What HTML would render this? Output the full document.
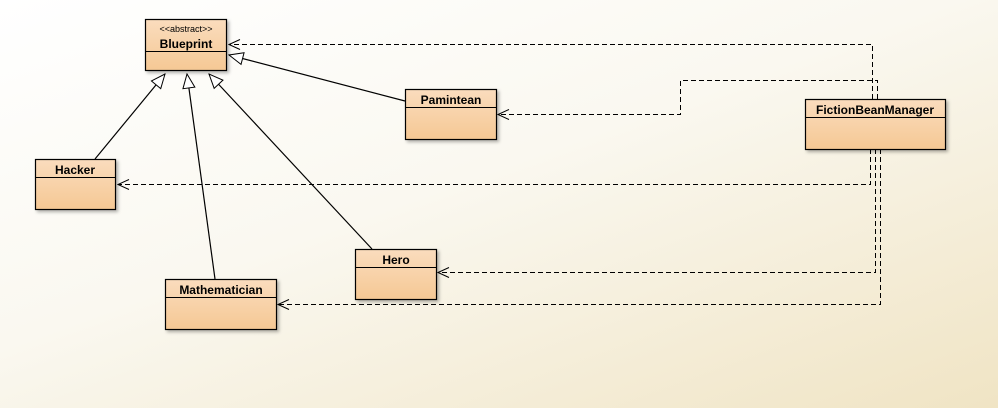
<!DOCTYPE html>
<html><head><meta charset="utf-8"><style>
html,body{margin:0;padding:0}
body{width:998px;height:408px;overflow:hidden;background:linear-gradient(160deg,#ffffff 0%,#faf8f0 45%,#f0e4c4 100%);font-family:"Liberation Sans",sans-serif}
</style></head><body>
<svg width="998" height="408" xmlns="http://www.w3.org/2000/svg" style="position:absolute;left:0;top:0">
<defs>
<linearGradient id="g" x1="0" y1="0" x2="0" y2="1"><stop offset="0" stop-color="#fadcbd"/><stop offset="1" stop-color="#f5c894"/></linearGradient>
<marker id="tri" markerWidth="16" markerHeight="14" refX="15" refY="7" orient="auto" markerUnits="userSpaceOnUse"><path d="M1,1 L15,7 L1,13 z" fill="#fff" stroke="#000" stroke-width="1"/></marker>
<marker id="open" markerWidth="14" markerHeight="12" refX="12" refY="6" orient="auto" markerUnits="userSpaceOnUse"><path d="M1,1 L12,6 L1,11" fill="none" stroke="#000" stroke-width="1" stroke-dasharray="none"/></marker>
<filter id="sh"><feDropShadow dx="2" dy="2" stdDeviation="1.5" flood-opacity="0.3"/></filter>
</defs>
<g stroke="#000" stroke-width="1.2" fill="none">
<line x1="95" y1="159" x2="165" y2="74" marker-end="url(#tri)"/>
<line x1="215" y1="279" x2="187" y2="74" marker-end="url(#tri)"/>
<line x1="372" y1="249" x2="209" y2="74" marker-end="url(#tri)"/>
<line x1="405" y1="101" x2="229" y2="55" marker-end="url(#tri)"/>
</g>
<g stroke="#000" stroke-width="1" fill="none" stroke-dasharray="5,3">
<polyline points="872.5,99 872.5,44.5 229,44.5" marker-end="url(#open)"/>
<polyline points="877.5,99 877.5,80.5 680.5,80.5 680.5,114.5 498,114.5" marker-end="url(#open)"/>
<polyline points="870.5,149 870.5,184.5 118,184.5" marker-end="url(#open)"/>
<polyline points="875.5,149 875.5,272.5 438,272.5" marker-end="url(#open)"/>
<polyline points="880.5,149 880.5,304.5 278,304.5" marker-end="url(#open)"/>
</g>
<g fill="url(#g)" stroke="#000" stroke-width="1.2" filter="url(#sh)">
<rect x="145.5" y="19.5" width="81" height="51"/>
<rect x="805.5" y="99.5" width="140" height="50"/>
<rect x="405.5" y="89.5" width="91" height="50"/>
<rect x="35.5" y="159.5" width="80" height="50"/>
<rect x="355.5" y="249.5" width="81" height="50"/>
<rect x="165.5" y="279.5" width="111" height="50"/>
</g>
<g stroke="#000" stroke-width="1">
<line x1="145" y1="51.5" x2="227" y2="51.5"/>
<line x1="805" y1="117.5" x2="946" y2="117.5"/>
<line x1="405" y1="107.5" x2="497" y2="107.5"/>
<line x1="35" y1="177.5" x2="116" y2="177.5"/>
<line x1="355" y1="267.5" x2="437" y2="267.5"/>
<line x1="165" y1="297.5" x2="277" y2="297.5"/>
</g>
<g font-family="Liberation Sans, sans-serif" font-weight="bold" font-size="12" text-anchor="middle" fill="#000">
<text x="186" y="32" font-size="9" font-weight="normal">&lt;&lt;abstract&gt;&gt;</text>
<text x="186" y="48">Blueprint</text>
<text x="875" y="114">FictionBeanManager</text>
<text x="451" y="104">Pamintean</text>
<text x="75" y="174">Hacker</text>
<text x="396" y="264">Hero</text>
<text x="221" y="294">Mathematician</text>
</g>
</svg>
</body></html>
